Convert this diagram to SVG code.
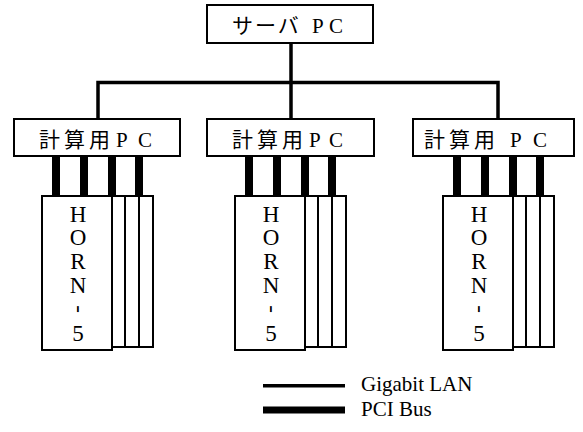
<svg xmlns="http://www.w3.org/2000/svg" width="583" height="432" viewBox="0 0 583 432">
  <style>
    .box { fill: #fff; stroke: #000; stroke-width: 2; }
    .lan { fill: none; stroke: #000; stroke-width: 3.5; stroke-linecap: square; }
    .bus { fill: #000; }
    .card { fill: none; stroke: #000; stroke-width: 2; }
    .jp { font-family: "Noto Sans CJK JP", sans-serif; font-size: 21px; fill: #000; }
    .serif { font-family: "Liberation Serif", Tinos, "Times New Roman", "DejaVu Serif", serif; fill: #000; }
    .lat { font-size: 21px; }
    .horn { font-size: 23px; text-anchor: middle; }
    .leg { font-size: 21px; }
  </style>

  <!-- Gigabit LAN wiring -->
  <g id="connectors">
    <path class="lan" d="M291,43 V119"/>
    <path class="lan" d="M98,119 V82.5 H498 V119"/>
  </g>

  <g id="server">
    <rect class="box" x="207" y="5" width="166" height="38"/>
    <text class="jp" x="232" y="33" letter-spacing="2">サーバ</text>
    <text class="serif lat" x="312" y="33">P</text>
    <text class="serif lat" x="329" y="33">C</text>
  </g>

  <g id="pc1">
    <rect class="box" x="14" y="119" width="166" height="37"/>
    <text class="jp" x="39" y="147" letter-spacing="4">計算用</text>
    <text class="serif lat" x="116" y="147">P</text>
    <text class="serif lat" x="138" y="147">C</text>
  </g>
  <g id="pc2">
    <rect class="box" x="207" y="119" width="167" height="37"/>
    <text class="jp" x="232" y="147" letter-spacing="4">計算用</text>
    <text class="serif lat" x="309" y="147">P</text>
    <text class="serif lat" x="329" y="147">C</text>
  </g>
  <g id="pc3">
    <rect class="box" x="413" y="119" width="161" height="37"/>
    <text class="jp" x="424" y="147" letter-spacing="4">計算用</text>
    <text class="serif lat" x="510" y="147">P</text>
    <text class="serif lat" x="533" y="147">C</text>
  </g>

  <!-- HORN-5 boards: three stacked cards behind a labelled front card, four PCI links -->
  <g id="horn1" transform="translate(42,0)">
    <rect class="card" x="70" y="196" width="41" height="151"/>
    <line class="card" x1="83" y1="196" x2="83" y2="347"/>
    <line class="card" x1="97" y1="196" x2="97" y2="347"/>
    <rect class="box" x="0" y="196" width="70" height="154"/>
    <rect class="bus" x="10" y="156" width="8" height="40"/>
    <rect class="bus" x="38" y="156" width="8" height="40"/>
    <rect class="bus" x="66" y="156" width="8" height="40"/>
    <rect class="bus" x="93" y="156" width="8" height="40"/>
    <text class="serif horn" x="36" y="222">H</text>
    <text class="serif horn" x="36" y="245">O</text>
    <text class="serif horn" x="36" y="269">R</text>
    <text class="serif horn" x="36" y="293">N</text>
    <text class="serif horn" transform="translate(36,309) rotate(90)" y="6">-</text>
    <text class="serif horn" x="36" y="341">5</text>
  </g>
  <g id="horn2" transform="translate(235,0)">
    <rect class="card" x="70" y="196" width="41" height="151"/>
    <line class="card" x1="83" y1="196" x2="83" y2="347"/>
    <line class="card" x1="97" y1="196" x2="97" y2="347"/>
    <rect class="box" x="0" y="196" width="70" height="154"/>
    <rect class="bus" x="10" y="156" width="8" height="40"/>
    <rect class="bus" x="38" y="156" width="8" height="40"/>
    <rect class="bus" x="66" y="156" width="8" height="40"/>
    <rect class="bus" x="93" y="156" width="8" height="40"/>
    <text class="serif horn" x="36" y="222">H</text>
    <text class="serif horn" x="36" y="245">O</text>
    <text class="serif horn" x="36" y="269">R</text>
    <text class="serif horn" x="36" y="293">N</text>
    <text class="serif horn" transform="translate(36,309) rotate(90)" y="6">-</text>
    <text class="serif horn" x="36" y="341">5</text>
  </g>
  <g id="horn3" transform="translate(443,0)">
    <rect class="card" x="70" y="196" width="41" height="151"/>
    <line class="card" x1="83" y1="196" x2="83" y2="347"/>
    <line class="card" x1="97" y1="196" x2="97" y2="347"/>
    <rect class="box" x="0" y="196" width="70" height="154"/>
    <rect class="bus" x="10" y="156" width="8" height="40"/>
    <rect class="bus" x="38" y="156" width="8" height="40"/>
    <rect class="bus" x="66" y="156" width="8" height="40"/>
    <rect class="bus" x="93" y="156" width="8" height="40"/>
    <text class="serif horn" x="36" y="222">H</text>
    <text class="serif horn" x="36" y="245">O</text>
    <text class="serif horn" x="36" y="269">R</text>
    <text class="serif horn" x="36" y="293">N</text>
    <text class="serif horn" transform="translate(36,309) rotate(90)" y="6">-</text>
    <text class="serif horn" x="36" y="341">5</text>
  </g>

  <g id="legend">
    <rect class="bus" x="263" y="384" width="82" height="3.5"/>
    <text class="serif leg" x="361" y="391">Gigabit LAN</text>
    <rect class="bus" x="263" y="406.5" width="82" height="7"/>
    <text class="serif leg" x="361" y="416">PCI Bus</text>
  </g>
</svg>
